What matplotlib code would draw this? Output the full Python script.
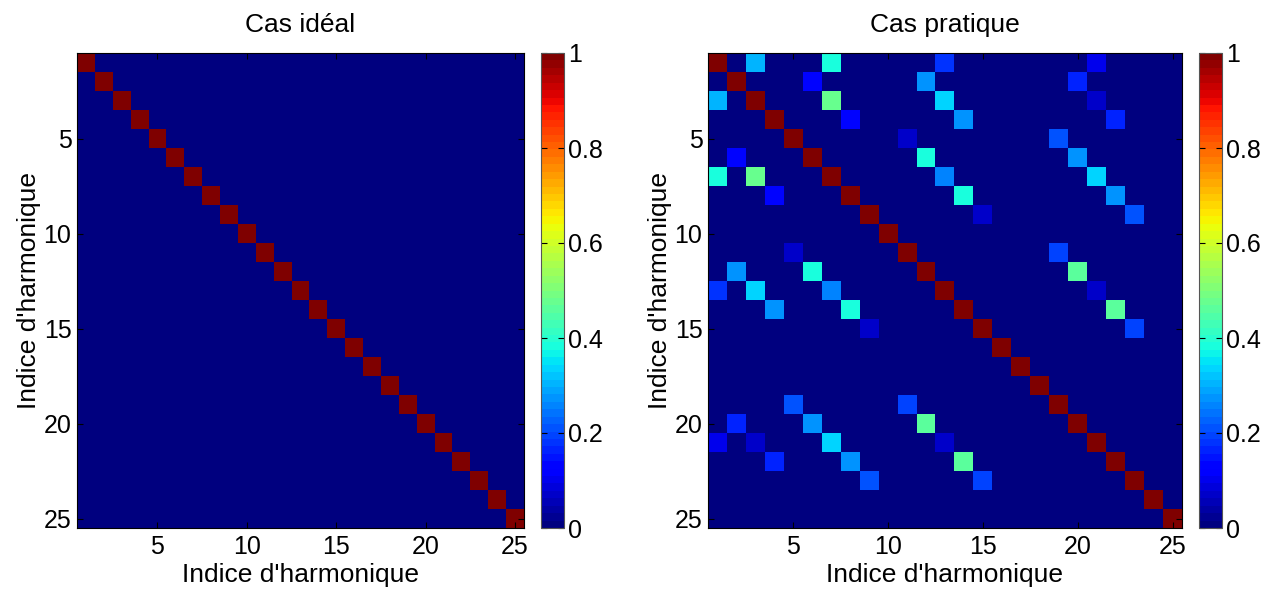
import numpy as np
import matplotlib
matplotlib.use('Agg')
import matplotlib.pyplot as plt

plt.rcParams['font.family'] = ['Liberation Sans', 'DejaVu Sans']

n_harm = 25
harmonics = list(range(1, n_harm + 1))
ticks = [5, 10, 15, 20, 25]
cbar_ticks = [0, 0.2, 0.4, 0.6, 0.8, 1]

# couplages hors diagonale (triangle superieur, la matrice est symetrique)
coup_rows = [1, 1, 1, 1, 2, 2, 2, 3, 3, 3, 4, 4, 4, 5, 5, 6, 6, 7, 7, 8, 8, 9, 9, 11, 12, 13, 14, 15]
coup_cols = [3, 7, 13, 21, 6, 12, 20, 7, 13, 21, 8, 14, 22, 11, 19, 12, 20, 13, 21, 14, 22, 15, 23, 19, 20, 21, 22, 23]
coup_vals = [0.30, 0.38, 0.18, 0.10, 0.13, 0.28, 0.17, 0.47, 0.33, 0.07, 0.13, 0.28, 0.17,
             0.07, 0.21, 0.38, 0.28, 0.25, 0.33, 0.38, 0.28, 0.07, 0.21, 0.19, 0.46, 0.07, 0.46, 0.19]

ideal = np.eye(n_harm)
pratique = np.eye(n_harm)
for r, c, v in zip(coup_rows, coup_cols, coup_vals):
    pratique[r - 1, c - 1] = v
    pratique[c - 1, r - 1] = v

W, H = 1277, 589
fig = plt.figure(figsize=(W / 100, H / 100), dpi=100)
cmap = plt.get_cmap('jet', 64)


def px(l, r, t, b):
    return [l / W, (H - b) / H, (r - l) / W, (b - t) / H]


def panel(mat, axbox, cbbox, title):
    ax = fig.add_axes(px(*axbox))
    im = ax.imshow(mat, cmap=cmap, vmin=0, vmax=1, interpolation='nearest',
                   extent=[0.5, n_harm + 0.5, n_harm + 0.5, 0.5], aspect='auto')
    ax.set_xticks(ticks)
    ax.set_yticks(ticks)
    ax.tick_params(direction='in', length=4, width=0.8, labelsize=18,
                   top=True, right=True)
    ax.tick_params(axis='x', pad=5)
    ax.tick_params(axis='y', pad=4)
    ax.set_xlabel("Indice d'harmonique", fontsize=19, labelpad=3)
    ax.set_ylabel("Indice d'harmonique", fontsize=19, labelpad=2)
    ax.set_title(title, fontsize=19, pad=15)
    for s in ax.spines.values():
        s.set_linewidth(0.8)

    cax = fig.add_axes(px(*cbbox))
    cb = fig.colorbar(im, cax=cax, ticks=cbar_ticks)
    cb.ax.set_yticklabels(['0', '0.2', '0.4', '0.6', '0.8', '1'])
    cb.ax.tick_params(direction='in', length=4, width=0.8, labelsize=18,
                      left=True, right=True, pad=3)
    cb.outline.set_linewidth(0.8)
    cb.outline.set_edgecolor('#555555')


panel(ideal, (77, 524, 53, 528), (541, 564, 53, 528), 'Cas idéal')
panel(pratique, (708, 1182, 53, 528), (1199, 1222, 53, 528), 'Cas pratique')

fig.savefig('out.png', dpi=100)
